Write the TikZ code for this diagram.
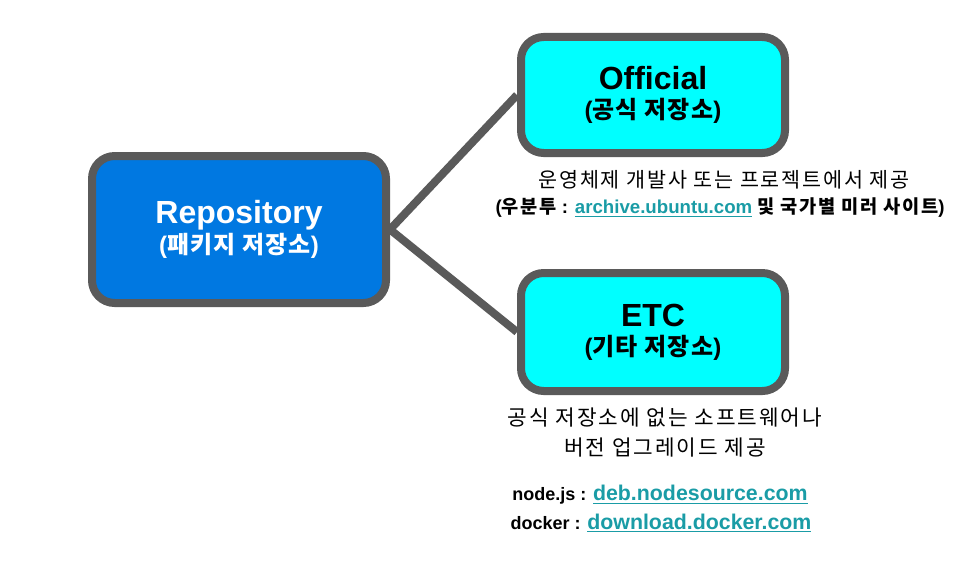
\documentclass[tikz,border=0pt]{standalone}
\usepackage{fontspec}
\setmainfont{Liberation Sans}
\newfontfamily\kr[LetterSpace=9]{Noto Sans CJK KR}
\newfontfamily\krb[LetterSpace=5]{Noto Sans CJK KR}
\definecolor{edgegray}{HTML}{5A5A5A}
\definecolor{repoblue}{HTML}{0078E1}
\definecolor{boxcyan}{HTML}{00FFFF}
\definecolor{linkteal}{HTML}{1A9CA6}
\newcommand{\lnk}[1]{\textcolor{linkteal}{\underline{#1}}}
\begin{document}
\begin{tikzpicture}[x=0.75pt,y=-0.75pt,
  mainbox/.style={draw=edgegray, line width=6pt, rounded corners=17pt, align=center, inner sep=0pt,
    font=\fontsize{18}{22}\selectfont\bfseries},
  conn/.style={draw=edgegray, line width=6pt},
  desc/.style={align=center, inner sep=0pt}]
\useasboundingbox (0,0) rectangle (966,567);
\node[mainbox, fill=repoblue, minimum width=220.5pt, minimum height=110.25pt, text=white] (repo) at (239,229.5)
  {{\fontsize{24}{24}\selectfont\bfseries Repository}\\
   (\krb\bfseries 패키지 저장소\rmfamily\bfseries)};
\node[mainbox, fill=boxcyan, minimum width=198pt, minimum height=87pt] (off) at (653,95)
  {{\fontsize{24}{24}\selectfont\bfseries Official}\\
   (\krb\bfseries 공식 저장소\rmfamily\bfseries)};
\node[mainbox, fill=boxcyan, minimum width=198pt, minimum height=88.5pt] (etc) at (653,332)
  {{\fontsize{24}{24}\selectfont\bfseries ETC}\\
   (\krb\bfseries 기타 저장소\rmfamily\bfseries)};
\draw[conn] (repo.east) -- (off.west);
\draw[conn] (repo.east) -- (etc.west);
\node[desc] (d1) at (724,180) {\fontsize{15.5}{18}\selectfont\kr 운영체제 개발사 또는 프로젝트에서 제공};
\node[desc] (d2) at (720,208) {\fontsize{14}{16}\selectfont\bfseries (\kr\bfseries 우분투\rmfamily\bfseries{} : \lnk{archive.ubuntu.com} \kr\bfseries 및 국가별 미러 사이트\rmfamily\bfseries)};
\node[desc] (e1) at (665,418) {\fontsize{16}{18}\selectfont\kr 공식 저장소에 없는 소프트웨어나};
\node[desc] (e2) at (665,448) {\fontsize{16}{18}\selectfont\kr 버전 업그레이드 제공};
\node[desc] (e3) at (660,495) {\fontsize{13.5}{16}\selectfont\bfseries node.js : \fontsize{16}{18}\selectfont\lnk{deb.nodesource.com}};
\node[desc] (e4) at (661,523) {\fontsize{13.5}{16}\selectfont\bfseries docker : \fontsize{16}{18}\selectfont\lnk{download.docker.com}};
\end{tikzpicture}
\end{document}
